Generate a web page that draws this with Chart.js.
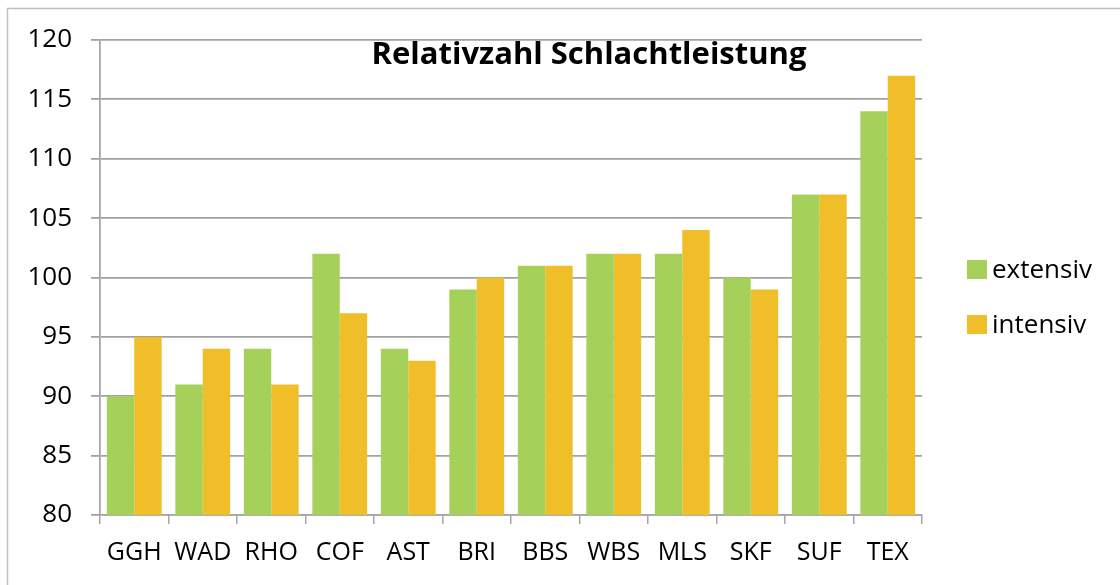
<!DOCTYPE html>
<html>
  <head>
    <title>Relativzahl Schlachtleistung</title>
    <meta charset="UTF-8" />
    <script src="https://cdn.jsdelivr.net/npm/chart.js@4"></script>
    <style>
      body { margin: 0; background: #fff; }
      #wrap { width: 1120px; height: 585px; }
    </style>
  </head>
  <body>
    <div id="wrap"><canvas id="myChart"></canvas></div>
    <script>
      var labels = ["GGH", "WAD", "RHO", "COF", "AST", "BRI", "BBS", "WBS", "MLS", "SKF", "SUF", "TEX"];
      var extensiv = [90, 91, 94, 102, 94, 99, 101, 102, 102, 100, 107, 114];
      var intensiv = [95, 94, 91, 97, 93, 100, 101, 102, 104, 99, 107, 117];
      var titleText = "Relativzahl Schlachtleistung";

      var font = "'Open Sans'";

      // frame, title and legend drawn by hand like the Excel picture
      var extras = {
        id: "extras",
        beforeDraw: function(chart) {
          var c = chart.ctx;
          c.save();
          c.strokeStyle = "#bfbfbf";
          c.lineWidth = 1.5;
          c.strokeRect(7.5, 8.5, 1200, 700);
          c.restore();
        },
        afterDraw: function(chart) {
          var c = chart.ctx;
          c.save();
          c.fillStyle = "#000";
          c.font = "bold 31px " + font;
          c.textAlign = "center";
          c.textBaseline = "alphabetic";
          c.fillText(titleText, 589, 64);

          c.font = "26px " + font;
          c.textAlign = "left";
          var ys = [278, 333];
          chart.data.datasets.forEach(function(ds, i) {
            c.fillStyle = ds.backgroundColor;
            c.fillRect(967, ys[i] - 18, 20, 19);
            c.fillStyle = "#000";
            c.fillText(ds.label, 992, ys[i]);
          });
          c.restore();
        }
      };

      var ctx = document.getElementById("myChart").getContext("2d");
      var chart = new Chart(ctx, {
        type: "bar",
        data: {
          labels: labels,
          datasets: [
            {
              label: "extensiv",
              backgroundColor: "#a5d15a",
              data: extensiv
            },
            {
              label: "intensiv",
              backgroundColor: "#f0be28",
              data: intensiv
            }
          ]
        },
        options: {
          responsive: true,
          maintainAspectRatio: false,
          animation: false,
          layout: { padding: { top: 40, right: 198, bottom: 0, left: 0 } },
          datasets: {
            bar: { categoryPercentage: 0.8, barPercentage: 1.0 }
          },
          plugins: {
            legend: { display: false },
            title: { display: false },
            tooltip: { enabled: false }
          },
          scales: {
            x: {
              grid: {
                offset: true,
                drawOnChartArea: false,
                drawTicks: true,
                tickLength: 9,
                color: "#a6a6a6",
                lineWidth: 1.5
              },
              border: { color: "#a6a6a6", width: 1.5 },
              ticks: {
                color: "#000",
                font: { family: font, size: 25 },
                padding: 14,
                maxRotation: 0
              },
              afterFit: function(scale) { scale.height = 70; }
            },
            y: {
              min: 80,
              max: 120,
              z: 1,
              grid: {
                color: "rgba(110,110,110,0.65)",
                lineWidth: 1.8,
                tickLength: 9
              },
              border: { color: "#a6a6a6", width: 1.8 },
              ticks: {
                stepSize: 5,
                color: "#000",
                font: { family: font, size: 26 },
                padding: 19
              },
              afterFit: function(scale) { scale.width = 100; }
            }
          }
        },
        plugins: [extras]
      });
    </script>
  </body>
</html>
